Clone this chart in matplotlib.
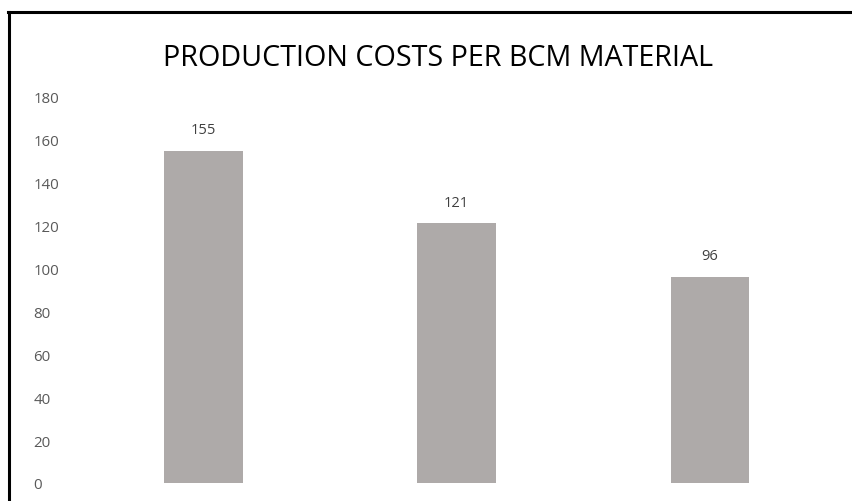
import matplotlib.pyplot as plt
from matplotlib.lines import Line2D

categories = ['A', 'B', 'C']
costs = [155, 121, 96]
y_ticks = [0, 20, 40, 60, 80, 100, 120, 140, 160, 180]

plt.rcParams['font.family'] = ['Open Sans', 'DejaVu Sans']

fig = plt.figure(figsize=(8.52, 5.02), dpi=100)
ax = fig.add_axes([0.09, 0.036, 0.892, 0.769])

x = range(len(categories))
bars = ax.bar(x, costs, width=0.31, color='#AEAAA9')
for b, v in zip(bars, costs):
    ax.annotate(str(v), (b.get_x() + b.get_width() / 2, v), xytext=(0, 10),
                textcoords='offset points', ha='center', va='bottom',
                fontsize=10.5, color='#404040')

ax.set_xlim(-0.5, len(categories) - 0.5)
ax.set_ylim(0, 180)
ax.set_yticks(y_ticks)
ax.set_xticks([])
ax.tick_params(axis='y', length=0, pad=31, labelsize=10.8, labelcolor='#595959')
for lbl in ax.get_yticklabels():
    lbl.set_horizontalalignment('left')
for s in ax.spines.values():
    s.set_visible(False)

fig.text(0.514, 0.883, 'PRODUCTION COSTS PER BCM MATERIAL', ha='center', va='center',
         fontsize=20.7, color='#000000', family=['Open Sans', 'DejaVu Sans'])

# frame (only left and top edges are visible in the crop)
fig.add_artist(Line2D([0.0105, 0.0105], [0, 0.974], color='black', lw=2.2,
                      transform=fig.transFigure))
fig.add_artist(Line2D([0.0095, 1.0], [0.974, 0.974], color='black', lw=2.2,
                      transform=fig.transFigure))

plt.savefig('out.png', dpi=100)
